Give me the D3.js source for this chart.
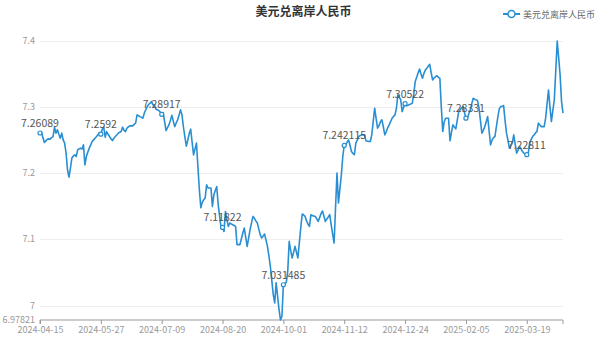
<!DOCTYPE html>
<html>
<head>
<meta charset="utf-8">
<script src="https://cdn.jsdelivr.net/npm/d3@7"></script>
<style>
body { margin: 0; background: #fff; }
text { font-family: "Noto Sans CJK SC", "Noto Sans", sans-serif; }
</style>
</head>
<body>
<script>
// daily categories, two missing days
var startDay = "2024-04-15",
	endDay = "2025-04-14",
	skipDays = ["2024-06-10", "2025-01-01"];

var tickLabels = ["2024-04-15","2024-05-27","2024-07-09","2024-08-20","2024-10-01",
	"2024-11-12","2024-12-24","2025-02-05","2025-03-19"];

var yTicks = [7, 7.1, 7.2, 7.3, 7.4];

var seriesName = "美元兑离岸人民币";

var rate = [
7.26089,7.2630,7.2540,7.2465,7.2490,7.2516,7.2520,7.2516,7.2540,7.2555,
7.2697,7.2607,7.2657,7.2590,7.2531,7.2607,7.2506,7.2456,7.2305,7.2050,
7.1943,7.2079,7.2230,7.2260,7.2280,7.2254,7.2355,7.2370,7.2380,7.2365,
7.2430,7.2128,7.2254,7.2320,7.2380,7.2430,7.2480,7.2505,7.2531,7.2555,
7.2581,7.2616,7.2592,7.2667,7.2697,7.2546,7.2631,7.2590,7.2556,7.2520,
7.2495,7.2530,7.2556,7.2580,7.2607,7.2620,7.2631,7.2697,7.2650,7.2631,
7.2682,7.2700,7.2717,7.2717,7.2717,7.2740,7.2758,7.2883,7.2870,7.2857,
7.2845,7.2833,7.2909,7.2960,7.3008,7.3040,7.3060,7.3084,7.3034,7.3034,
7.2969,7.2960,7.2950,7.2925,7.28917,7.2918,7.2780,7.2646,7.2690,7.2732,
7.2800,7.2876,7.2790,7.2706,7.2760,7.2808,7.2880,7.2959,7.2883,7.2700,
7.2550,7.2411,7.2500,7.2600,7.2667,7.2470,7.2279,7.2370,7.2456,7.2100,
7.1751,7.1479,7.1560,7.1600,7.1626,7.1826,7.1777,7.1777,7.1777,7.1499,
7.1675,7.1740,7.1800,7.1525,7.1350,7.1173,7.11822,7.1122,7.1423,7.1300,
7.1197,7.1248,7.1235,7.1223,7.1210,7.1197,7.0921,7.0921,7.0921,7.1010,
7.1097,7.1173,7.1030,7.0895,7.1020,7.1147,7.1250,7.1348,7.1320,7.1280,
7.1248,7.1160,7.1072,7.1022,7.1050,7.1082,7.0990,7.0895,7.0750,7.0593,
7.0380,7.0166,7.0040,7.0343,7.0140,6.9940,6.97821,6.9839,7.031485,7.0332,
7.0352,7.0518,7.0970,7.0840,7.0720,7.0800,7.0895,7.0810,7.0720,7.0950,
7.1180,7.1384,7.1370,7.1348,7.1280,7.1230,7.1197,7.1374,7.1360,7.1355,
7.1348,7.1310,7.1272,7.1330,7.1390,7.1430,7.1350,7.1272,7.1310,7.1340,
7.1374,7.1220,7.1080,7.0946,7.1480,7.2003,7.1550,7.1760,7.1977,7.2254,
7.242115,7.2430,7.2470,7.2506,7.2420,7.2329,7.2300,7.2280,7.2456,7.2500,
7.2556,7.2570,7.2581,7.2581,7.2581,7.2491,7.2485,7.2482,7.2480,7.2581,
7.2780,7.2984,7.2830,7.2682,7.2720,7.2780,7.2808,7.2700,7.2581,7.2630,
7.2690,7.2732,7.2780,7.2833,7.2860,7.2883,7.2980,7.3185,7.3150,7.3110,
7.2933,7.3000,7.30522,7.3019,7.3030,7.3040,7.3049,7.3060,7.3200,7.3386,
7.3450,7.3520,7.3577,7.3500,7.3437,7.3510,7.3560,7.3588,7.3620,7.3648,
7.3520,7.3411,7.3440,7.3460,7.3476,7.3450,7.3437,7.3000,7.2631,7.2780,
7.2833,7.2833,7.2833,7.2491,7.2620,7.2732,7.2700,7.2672,7.2800,7.2933,
7.2960,7.2990,7.3008,7.2920,7.28331,7.2833,7.2900,7.2959,7.3050,7.3135,
7.3120,7.3110,7.3100,7.2990,7.2800,7.2607,7.2650,7.2706,7.2780,7.2858,
7.2640,7.2430,7.2500,7.2540,7.2556,7.2700,7.2850,7.2974,7.3008,7.3015,
7.3023,7.2800,7.2607,7.2500,7.2380,7.2420,7.2456,7.2581,7.2440,7.2305,
7.2350,7.2405,7.2370,7.2329,7.2305,7.2290,7.22811,7.2305,7.2456,7.2510,
7.2556,7.2580,7.2610,7.2631,7.2758,7.2730,7.2706,7.2706,7.2706,7.2833,
7.3050,7.3260,7.3000,7.2782,7.2950,7.3110,7.3550,7.4000,7.3750,7.3487,
7.3084,7.2909
];

var fmt = d3.timeFormat("%Y-%m-%d");
var dates = d3.timeDay.range(new Date(startDay + "T00:00"), new Date(endDay + "T00:00"))
	.map(fmt)
	.filter(function(d){ return skipDays.indexOf(d) < 0; })
	.slice(0, rate.length);

var data = dates.map(function(d, i){ return {date: d, value: rate[i]}; });

var width = 607,
	height = 345,
	plotLeft = 40,
	plotRight = 563,
	plotTop = 41,
	plotBottom = 320,
	blue = "#2a8fd2";

var svg = d3.select("body").append("svg")
	.attr("width", width)
	.attr("height", height);

var x = d3.scalePoint().domain(dates).range([plotLeft, plotRight]);
var y = d3.scaleLinear().domain([d3.min(rate), d3.max(rate)]).range([plotBottom, plotTop]);

// title
svg.append("text")
	.attr("x", width / 2)
	.attr("y", 16)
	.attr("text-anchor", "middle")
	.style("font-size", "12px")
	.style("font-weight", "bold")
	.style("fill", "#333")
	.text(seriesName);

// legend
var lg = svg.append("g").attr("transform", "translate(503,14)");
lg.append("line").attr("x1", 0).attr("x2", 17).attr("y1", 0).attr("y2", 0)
	.style("stroke", blue).style("stroke-width", 2);
lg.append("circle").attr("cx", 8.5).attr("cy", 0).attr("r", 3.5)
	.style("fill", "#fff").style("stroke", blue).style("stroke-width", 1.5);
lg.append("text").attr("x", 20).attr("y", 3.5)
	.style("font-size", "9px").style("fill", "#666")
	.text(seriesName);

// grid
svg.selectAll(".grid")
	.data(yTicks)
	.enter()
	.append("line")
	.attr("class", "grid")
	.attr("x1", plotLeft).attr("x2", plotRight)
	.attr("y1", function(d){ return Math.round(y(d)) + 0.5; })
	.attr("y2", function(d){ return Math.round(y(d)) + 0.5; })
	.style("stroke", "#eeeeee");

// y labels
var yLabels = [d3.min(rate)].concat(yTicks);
svg.selectAll(".ylab")
	.data(yLabels)
	.enter()
	.append("text")
	.attr("class", "ylab")
	.attr("x", 35)
	.attr("y", function(d){ return y(d) + 3; })
	.attr("text-anchor", "end")
	.style("font-size", "9px")
	.style("fill", "#999")
	.text(function(d){ return d; });

// x axis
var xAxis = d3.axisBottom(x)
	.tickValues(tickLabels)
	.tickSize(4)
	.tickPadding(3);
var gx = svg.append("g")
	.attr("transform", "translate(0," + plotBottom + ")")
	.call(xAxis);
gx.select(".domain").style("stroke", "#999").attr("d", "M" + plotLeft + ",4V0H" + plotRight + "V4");
gx.selectAll(".tick line").style("stroke", "#999");
gx.selectAll(".tick text")
	.style("font-size", "9px")
	.style("fill", "#999")
	.style("font-family", '"Noto Sans CJK SC", sans-serif');

// line
var line = d3.line()
	.x(function(d){ return x(d.date); })
	.y(function(d){ return y(d.value); });

svg.append("path")
	.datum(data)
	.attr("d", line)
	.style("fill", "none")
	.style("stroke", blue)
	.style("stroke-width", 1.6)
	.style("stroke-linejoin", "round");

// symbols and labels at tick dates
var shown = data.filter(function(d){ return tickLabels.indexOf(d.date) >= 0; });

svg.selectAll(".dot")
	.data(shown)
	.enter()
	.append("circle")
	.attr("class", "dot")
	.attr("cx", function(d){ return x(d.date); })
	.attr("cy", function(d){ return y(d.value); })
	.attr("r", 2)
	.style("fill", "#fff")
	.style("stroke", blue)
	.style("stroke-width", 1.2);

svg.selectAll(".vlab")
	.data(shown)
	.enter()
	.append("text")
	.attr("class", "vlab")
	.attr("x", function(d){ return x(d.date); })
	.attr("y", function(d){ return y(d.value) - 6; })
	.attr("text-anchor", "middle")
	.style("font-size", "10.5px")
	.style("fill", "#555")
	.text(function(d){ return d.value; });
</script>
</body>
</html>
